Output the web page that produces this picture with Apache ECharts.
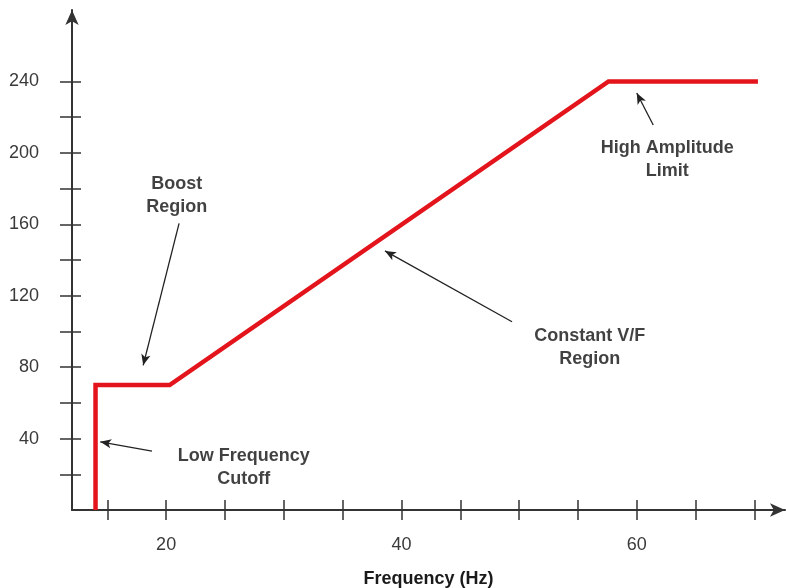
<!DOCTYPE html>
<html>
<head>
<meta charset="utf-8">
<script src="https://cdn.jsdelivr.net/npm/echarts@6/dist/echarts.min.js"></script>
<style>
  html, body { margin: 0; padding: 0; background: #fff; }
  #chart { width: 786px; height: 588px; }
</style>
</head>
<body>
<div id="chart"></div>
<script>
// V/F curve: [frequency Hz, voltage]
const curve = [[14, 0], [14, 70], [20.3, 70], [57.6, 240], [70.3, 240]]

const xTicks = [15, 20, 25, 30, 35, 40, 45, 50, 55, 60, 65, 70]
const xLabels = [20, 40, 60]
const yTicks = [20, 40, 60, 80, 100, 120, 140, 160, 180, 200, 220, 240]
const yLabels = [40, 80, 120, 160, 200, 240]

// annotation text, centred at [freq, value]
const noteTexts = ['Boost\nRegion', 'Low Frequency\nCutoff', 'Constant V/F\nRegion', 'High Amplitude\nLimit']
const notePos = [[20.9, 176], [26.6, 24], [56.0, 91], [62.6, 196]]
// arrows: tail -> head
const arrowFrom = [[21.1, 160.5], [18.8, 33], [49.4, 105.4], [61.4, 215.6]]
const arrowTo = [[18.05, 81], [14.4, 38.2], [38.6, 145.1], [60.0, 233.5]]

const chart = echarts.init(document.getElementById('chart'))

const axisColor = '#333'
const font = '"Liberation Sans", Arial, sans-serif'

const option = {
  animation: false,
  grid: { left: 72, right: 1, top: 10, bottom: 78, outerBoundsMode: 'none', containLabel: false },
  xAxis: [
    {
      type: 'value', min: 12, max: 72.6, position: 'bottom',
      axisLine: { onZero: false, lineStyle: { color: axisColor, width: 2 }, symbol: ['none', 'arrow'], symbolSize: [10, 15] },
      axisTick: { customValues: xTicks, length: 10, lineStyle: { color: axisColor, width: 1.5 } },
      axisLabel: { customValues: xLabels, margin: 26, fontSize: 18, color: '#3a3a3a', fontFamily: font },
      splitLine: { show: false },
      name: 'Frequency (Hz)', nameLocation: 'middle', nameGap: 60,
      nameTextStyle: { fontSize: 18, fontWeight: 'bold', color: '#1a1a1a', fontFamily: font }
    },
    {
      type: 'value', min: 12, max: 72.6, position: 'bottom',
      axisLine: { show: false, onZero: false },
      axisTick: { customValues: xTicks, inside: true, length: 10, lineStyle: { color: axisColor, width: 1.5 } },
      axisLabel: { show: false },
      splitLine: { show: false }
    }
  ],
  yAxis: [
    {
      type: 'value', min: 0, max: 280, position: 'left',
      axisLine: { show: true, onZero: false, lineStyle: { color: axisColor, width: 2 }, symbol: ['none', 'arrow'], symbolSize: [10, 15] },
      axisTick: { show: true, customValues: yTicks, length: 12, lineStyle: { color: axisColor, width: 1.5 } },
      axisLabel: { customValues: yLabels, margin: 33, fontSize: 18, color: '#3a3a3a', fontFamily: font },
      splitLine: { show: false }
    },
    {
      type: 'value', min: 0, max: 280, position: 'left',
      axisLine: { show: false, onZero: false },
      axisTick: { show: true, customValues: yTicks, inside: true, length: 9, lineStyle: { color: axisColor, width: 1.5 } },
      axisLabel: { show: false },
      splitLine: { show: false }
    }
  ],
  series: [
    {
      name: 'V/F',
      type: 'line',
      data: curve,
      symbol: 'none',
      lineStyle: { color: '#e3141b', width: 4.5, join: 'miter' },
      z: 3
    },
    {
      name: 'notes',
      type: 'scatter',
      data: notePos.map((p, i) => [p[0], p[1], noteTexts[i]]),
      symbolSize: 0,
      label: {
        show: true,
        position: 'inside',
        formatter: (p) => p.value[2],
        fontSize: 18,
        fontWeight: 'bold',
        lineHeight: 23,
        align: 'center',
        color: '#111',
        fontFamily: font
      },
      markLine: {
        silent: true,
        symbol: ['none', 'arrow'],
        symbolSize: [7, 11],
        lineStyle: { color: '#222', width: 1.3, type: 'solid' },
        label: { show: false },
        data: arrowFrom.map((a, i) => [{ coord: a }, { coord: arrowTo[i] }])
      }
    }
  ]
}

chart.setOption(option)
</script>
</body>
</html>
